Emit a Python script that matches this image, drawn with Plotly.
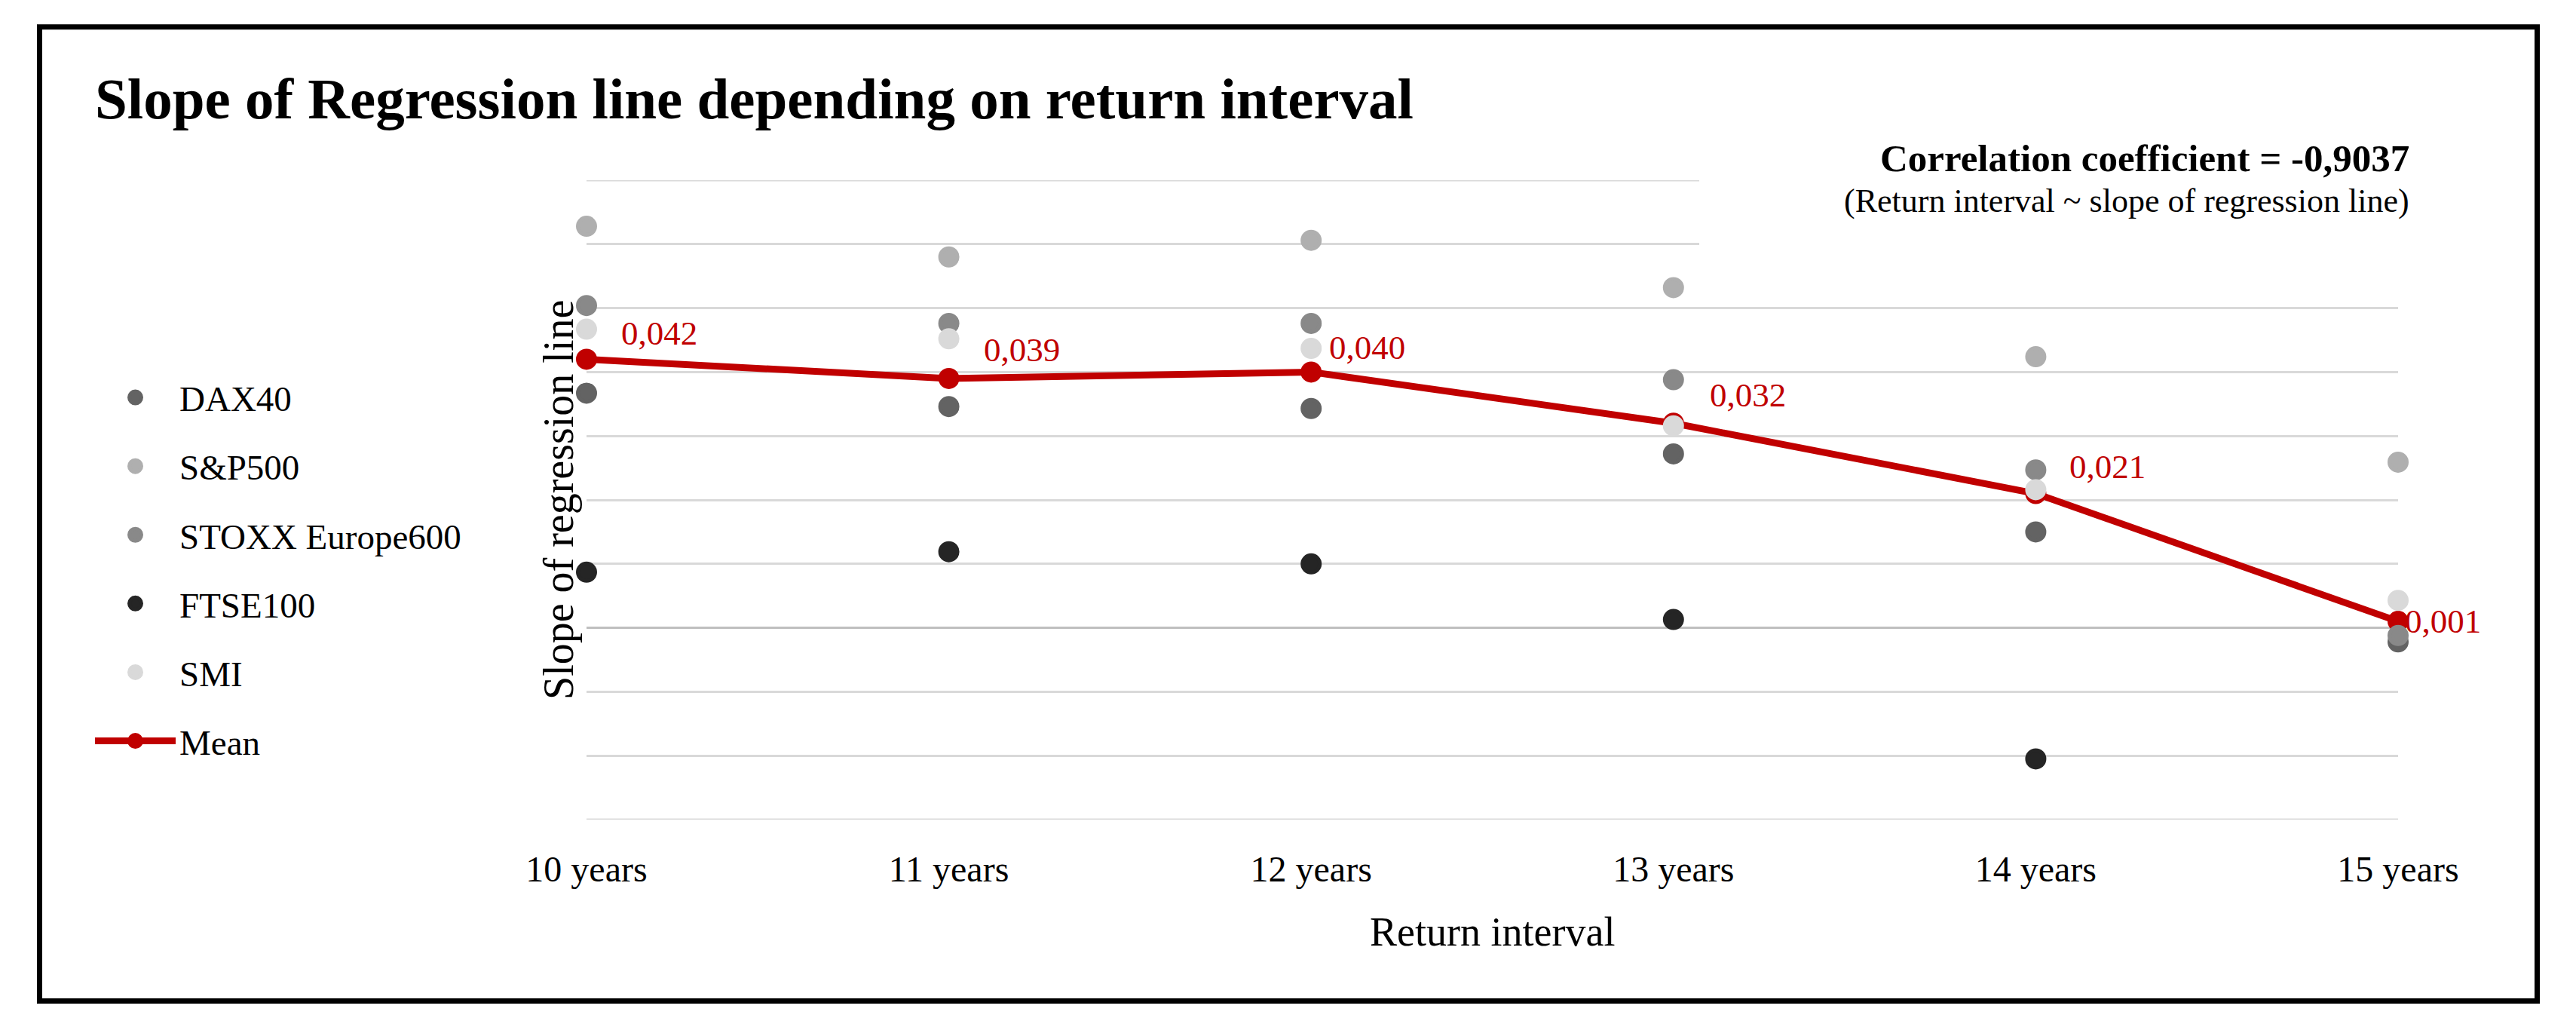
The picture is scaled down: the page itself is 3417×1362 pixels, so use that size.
import plotly.graph_objects as go

# ---------------- data ----------------
categories = ["10 years", "11 years", "12 years", "13 years", "14 years", "15 years"]
dax40 = [0.0367, 0.0346, 0.0343, 0.0272, 0.0150, -0.0022]
sp500 = [0.0628, 0.0580, 0.0606, 0.0532, 0.0424, 0.0259]
stoxx600 = [0.0504, 0.0476, 0.0476, 0.0388, 0.0247, -0.0012]
ftse100 = [0.0087, 0.0119, 0.0100, 0.0013, -0.0205, None]
smi = [0.0467, 0.0452, 0.0437, 0.0316, 0.0216, 0.0043]
mean = [0.042, 0.039, 0.040, 0.032, 0.021, 0.001]

series_names = ["DAX40", "S&P500", "STOXX Europe600", "FTSE100", "SMI"]
series_values = [dax40, sp500, stoxx600, ftse100, smi]
series_colors = ["#636363", "#afafaf", "#898989", "#252525", "#d9d9d9"]

y_min, y_max = -0.03, 0.07

title_text = "Slope of Regression line depending on return interval"
corr_text = "Correlation coefficient = -0,9037"
corr_sub = "(Return interval ~ slope of regression line)"
x_title = "Return interval"
y_title = "Slope of regression line"

# ---------------- layout geometry (pixels) ----------------
FW, FH = 3417, 1362
L, R, T, B = 778, 3181, 239, 1087
PW, PH = R - L, B - T
FONT = "Liberation Serif"
RED = "#c00000"
GRID = "#d9d9d9"


def px(xp):
    return (xp - L) / PW


def py(yp):
    return (B - yp) / PH


fig = go.Figure()

# Mean drawn first (beneath the index markers), listed last in legend
fig.add_trace(go.Scatter(
    x=categories, y=mean, name="Mean", mode="lines+markers",
    line=dict(color=RED, width=9),
    marker=dict(color=RED, size=23, line=dict(color=RED, width=5)),
    legendgroup="g6", legendrank=6, cliponaxis=False,
))
for i, (nm, vals, col) in enumerate(zip(series_names, series_values, series_colors)):
    fig.add_trace(go.Scatter(
        x=categories, y=vals, name=nm, mode="markers",
        marker=dict(color=col, size=23, line=dict(color=col, width=5)),
        legendgroup=f"g{i+1}", legendrank=i + 1, cliponaxis=False,
    ))

# mean value labels
label_offsets = [(44, 34), (44, 38), (22, 32), (46, 37), (43, 36), (7, 0)]
annotations = []
for cat, v, (dx, dy) in zip(categories, mean, label_offsets):
    annotations.append(dict(
        x=cat, y=v, xref="x", yref="y", text=f"{v:.3f}".replace(".", ","),
        showarrow=False, xanchor="left", yanchor="middle", xshift=dx, yshift=dy,
        font=dict(family=FONT, size=45, color=RED),
    ))

# title
annotations.append(dict(
    x=px(124), y=py(131), xref="paper", yref="paper", text=f"<b>{title_text}</b>",
    showarrow=False, xanchor="left", yanchor="middle",
    font=dict(family=FONT, size=77, color="black"),
))
# correlation text
annotations.append(dict(
    x=px(3198), y=py(210), xref="paper", yref="paper", text=f"<b>{corr_text}</b>",
    showarrow=False, xanchor="right", yanchor="middle",
    font=dict(family=FONT, size=51, color="black"),
))
annotations.append(dict(
    x=px(3198), y=py(266), xref="paper", yref="paper", text=corr_sub,
    showarrow=False, xanchor="right", yanchor="middle",
    font=dict(family=FONT, size=44, color="black"),
))
# axis titles
annotations.append(dict(
    x=px(741), y=0.5, xref="paper", yref="paper", text=y_title, textangle=-90,
    showarrow=False, xanchor="center", yanchor="middle",
    font=dict(family=FONT, size=56, color="black"),
))
annotations.append(dict(
    x=0.5, y=py(1236), xref="paper", yref="paper", text=x_title,
    showarrow=False, xanchor="center", yanchor="middle",
    font=dict(family=FONT, size=54, color="black"),
))

shapes = [
    # edge gridlines (top / bottom of value range)
    dict(type="line", xref="paper", yref="y", x0=0, x1=1, y0=y_max, y1=y_max,
         line=dict(color=GRID, width=3), layer="below"),
    dict(type="line", xref="paper", yref="y", x0=0, x1=1, y0=y_min, y1=y_min,
         line=dict(color=GRID, width=3), layer="below"),
    # white text-box background hiding the top gridlines
    dict(type="rect", xref="paper", yref="paper", x0=px(2254), x1=px(3250),
         y0=py(352), y1=py(190), fillcolor="white", line=dict(width=0), layer="above"),
    # outer frame
    dict(type="rect", xref="paper", yref="paper", x0=px(52.5), x1=px(3365.5),
         y0=py(1327.5), y1=py(35.8), line=dict(color="black", width=7),
         fillcolor="rgba(0,0,0,0)", layer="above"),
]

fig.update_layout(
    width=FW, height=FH,
    margin=dict(l=L, r=FW - R, t=T, b=FH - B, pad=0),
    paper_bgcolor="white", plot_bgcolor="white",
    font=dict(family=FONT, size=47, color="black"),
    showlegend=True,
    legend=dict(
        x=px(121), y=py(490), xanchor="left", yanchor="top",
        font=dict(family=FONT, size=47, color="black"),
        itemwidth=107, tracegroupgap=27, traceorder="grouped",
        bgcolor="rgba(0,0,0,0)", borderwidth=0,
    ),
    xaxis=dict(
        type="category", range=[0, 5], autorange=False,
        showgrid=False, zeroline=False, showline=False, ticks="",
        ticklabelstandoff=33,
        tickfont=dict(family=FONT, size=48, color="black"),
    ),
    yaxis=dict(
        range=[y_min, y_max], autorange=False, dtick=0.01, tick0=0,
        showticklabels=False, ticks="",
        showgrid=True, gridcolor=GRID, gridwidth=3,
        zeroline=True, zerolinecolor="#bfbfbf", zerolinewidth=3,
        showline=False,
    ),
    annotations=annotations,
    shapes=shapes,
)

fig.write_html("out.html")
